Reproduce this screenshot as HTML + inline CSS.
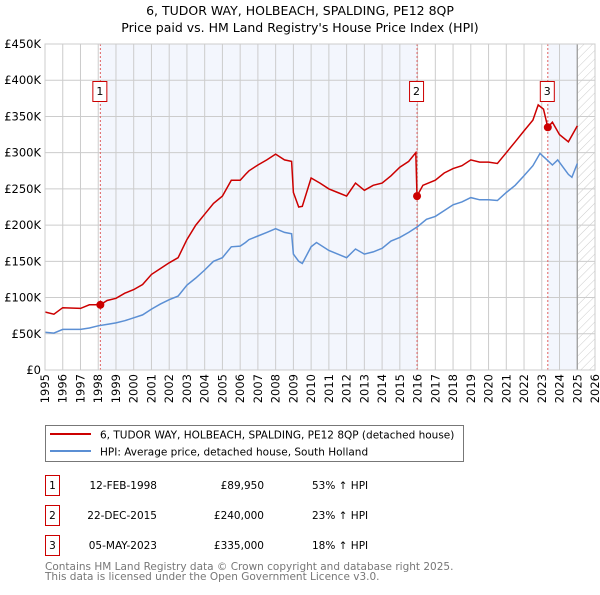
<!DOCTYPE html>
<html><head><meta charset="utf-8"><style>
body{margin:0;background:#fff;font-family:"Liberation Sans","DejaVu Sans",sans-serif;}
svg text{font-family:"DejaVu Sans","Liberation Sans",sans-serif;}
</style></head><body>
<svg id="chart" width="600" height="590" xmlns="http://www.w3.org/2000/svg">
<defs><pattern id="hatch" width="6" height="6" patternUnits="userSpaceOnUse" patternTransform="rotate(45)"><line x1="0" y1="0" x2="0" y2="6" stroke="#ccc" stroke-width="1"/></pattern></defs>
<text x="300" y="15" text-anchor="middle" font-size="12.5">6, TUDOR WAY, HOLBEACH, SPALDING, PE12 8QP</text>
<text x="300" y="32" text-anchor="middle" font-size="12.5">Price paid vs. HM Land Registry's House Price Index (HPI)</text>
<g id="plot"></g>
<g>
<rect x="45.5" y="425.5" width="418" height="36" fill="#fff" stroke="#777"/>
<line x1="50" y1="434" x2="91" y2="434" stroke="#cc0000" stroke-width="2"/>
<text x="100" y="438.5" font-size="10.5">6, TUDOR WAY, HOLBEACH, SPALDING, PE12 8QP (detached house)</text>
<line x1="50" y1="451" x2="91" y2="451" stroke="#5b8fd4" stroke-width="2"/>
<text x="100" y="455.5" font-size="10.5">HPI: Average price, detached house, South Holland</text>
</g>
<g font-size="10.5">
<rect x="45.5" y="475.5" width="14" height="20" fill="#fff" stroke="#cc0000"/><text x="52.5" y="489" text-anchor="middle">1</text>
<text x="157" y="489" text-anchor="end">12-FEB-1998</text><text x="264" y="489" text-anchor="end">£89,950</text><text x="312" y="489">53% ↑ HPI</text>
<rect x="45.5" y="505.5" width="14" height="20" fill="#fff" stroke="#cc0000"/><text x="52.5" y="519" text-anchor="middle">2</text>
<text x="157" y="519" text-anchor="end">22-DEC-2015</text><text x="264" y="519" text-anchor="end">£240,000</text><text x="312" y="519">23% ↑ HPI</text>
<rect x="45.5" y="535.5" width="14" height="20" fill="#fff" stroke="#cc0000"/><text x="52.5" y="549" text-anchor="middle">3</text>
<text x="157" y="549" text-anchor="end">05-MAY-2023</text><text x="264" y="549" text-anchor="end">£335,000</text><text x="312" y="549">18% ↑ HPI</text>
</g>
<text x="45" y="570" font-size="10.5" fill="#777">Contains HM Land Registry data © Crown copyright and database right 2025.</text>
<text x="45" y="580" font-size="10.5" fill="#777">This data is licensed under the Open Government Licence v3.0.</text>
</svg>
<script>
const yearTicks=[1995,1996,1997,1998,1999,2000,2001,2002,2003,2004,2005,2006,2007,2008,2009,2010,2011,2012,2013,2014,2015,2016,2017,2018,2019,2020,2021,2022,2023,2024,2025,2026];
const priceTicks=[0,50,100,150,200,250,300,350,400,450];
const priceLabels=["£0","£50K","£100K","£150K","£200K","£250K","£300K","£350K","£400K","£450K"];
const hpiT=[1995,1995.5,1996,1997,1997.5,1998,1998.5,1999,1999.5,2000,2000.5,2001,2001.5,2002,2002.5,2003,2003.5,2004,2004.5,2005,2005.5,2006,2006.3,2006.5,2007,2007.5,2008,2008.5,2008.9,2009,2009.3,2009.5,2010,2010.3,2011,2011.5,2012,2012.5,2013,2013.5,2014,2014.5,2015,2015.5,2016,2016.5,2017,2017.5,2018,2018.5,2019,2019.5,2020,2020.5,2021,2021.5,2022,2022.5,2022.9,2023.3,2023.6,2023.9,2024.5,2024.7,2025];
const hpiV=[52,51,56,56,58,61,63,65,68,72,76,84,91,97,102,117,127,138,150,155,170,171,176,180,185,190,195,190,188,160,150,147,170,176,165,160,155,167,160,163,168,178,183,190,198,208,212,220,228,232,238,235,235,234,245,255,268,282,299,290,283,290,270,266,285];
const priceT=[1995,1995.5,1996,1997,1997.5,1998.12,1998.5,1999,1999.5,2000,2000.5,2001,2001.5,2002,2002.5,2003,2003.5,2004,2004.5,2005,2005.5,2006,2006.3,2006.5,2007,2007.5,2008,2008.5,2008.9,2009,2009.3,2009.5,2010,2010.5,2011,2011.5,2012,2012.5,2013,2013.5,2014,2014.5,2015,2015.5,2015.9,2015.97,2016.3,2017,2017.5,2018,2018.5,2019,2019.5,2020,2020.5,2021,2021.5,2022,2022.5,2022.8,2023.1,2023.34,2023.6,2024,2024.5,2025];
const priceV=[80,77,86,85,90,90,96,99,106,111,118,132,140,148,155,180,200,215,230,240,262,262,270,275,283,290,298,290,288,245,225,226,265,258,250,245,240,258,248,255,258,268,280,288,300,240,255,262,272,278,282,290,287,287,285,300,315,330,345,366,360,335,342,325,315,337];
const saleT=[1998.12,2015.97,2023.34];
const saleV=[89.95,240,335];
const saleLabels=["1","2","3"];
const X0=45,X1=595,Y0=370,Y1=44;
const xs=t=>X0+(t-1995)/(2026-1995)*(X1-X0);
const ys=v=>Y0-v/450*(Y0-Y1);
const NS="http://www.w3.org/2000/svg";
const g=document.getElementById('plot');
function mk(tag,attrs,parent){const e=document.createElementNS(NS,tag);for(const k in attrs)e.setAttribute(k,attrs[k]);(parent||g).appendChild(e);return e;}
let e=mk('rect',{x:xs(saleT[0]),y:Y1,width:xs(saleT[1])-xs(saleT[0]),height:Y0-Y1,fill:'#f3f6fd'});


e=mk('rect',{x:xs(saleT[2]),y:Y1,width:xs(2025)-xs(saleT[2]),height:Y0-Y1,fill:'#f3f6fd'});


e=mk('rect',{x:xs(2025),y:Y1,width:X1-xs(2025),height:Y0-Y1,fill:'url(#hatch)'});


yearTicks.forEach(t=>{const l=mk('line',{x1:xs(t),x2:xs(t),y1:Y1,y2:Y0,stroke:'#ccc','stroke-width':1});


const tx=mk('text',{x:0,y:0,'font-size':11.5,'text-anchor':'end',transform:`translate(${xs(t)+4},${Y0+4}) rotate(-90)`});tx.textContent=t;

});
priceTicks.forEach((v,i)=>{const l=mk('line',{x1:X0,x2:X1,y1:ys(v),y2:ys(v),stroke:'#ccc','stroke-width':1});


const tx=mk('text',{x:X0-4,y:ys(v)+4,'font-size':11.5,'text-anchor':'end'});tx.textContent=priceLabels[i];

});
e=mk('line',{x1:xs(2025),x2:xs(2025),y1:Y1,y2:Y0,stroke:'#999','stroke-width':1.2});


saleT.forEach((t,i)=>{const l=mk('line',{x1:xs(t),x2:xs(t),y1:Y1,y2:Y0,stroke:'#e06060','stroke-width':1,'stroke-dasharray':'2,2'});


const r=mk('rect',{x:xs(t)-7.5,y:81.5,width:14,height:20,fill:'#fff',stroke:'#cc0000'});


const tx=mk('text',{x:xs(t)-0.5,y:95,'font-size':11,'text-anchor':'middle'});tx.textContent=saleLabels[i];

});
function path(T,V){return T.map((t,i)=>(i?'L':'M')+xs(t).toFixed(1)+','+ys(V[i]).toFixed(1)).join('');}
e=mk('path',{d:path(hpiT,hpiV),fill:'none',stroke:'#5b8fd4','stroke-width':1.5});


e=mk('path',{d:path(priceT,priceV),fill:'none',stroke:'#cc0000','stroke-width':1.5});


saleT.forEach((t,i)=>{const c=mk('circle',{cx:xs(t),cy:ys(saleV[i]),r:4,fill:'#cc0000'});

});
e=mk('rect',{x:X0,y:Y1,width:X1-X0,height:Y0-Y1,fill:'none',stroke:'#ccc'});


</script>
</body></html>
